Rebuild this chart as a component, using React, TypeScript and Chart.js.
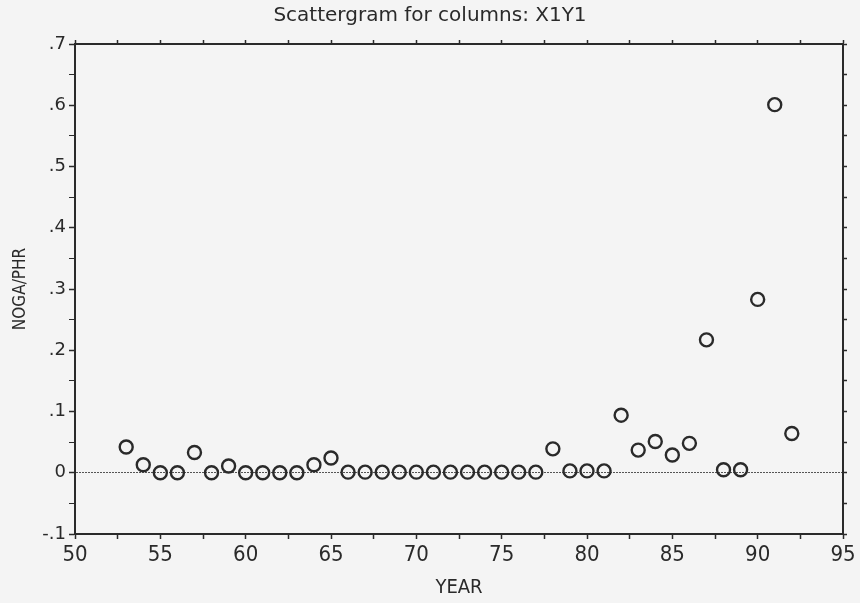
import React, { useEffect, useRef } from "react";
import { Chart, registerables } from "chart.js";

Chart.register(...registerables);

const years = [53, 54, 55, 56, 57, 58, 59, 60, 61, 62, 63, 64, 65, 66, 67, 68, 69, 70, 71, 72, 73, 74, 75, 76, 77, 78, 79, 80, 81, 82, 83, 84, 85, 86, 87, 88, 89, 90, 91, 92];
const nogaPhr = [0.042, 0.013, 0, 0, 0.033, 0, 0.011, 0, 0, 0, 0, 0.013, 0.024, 0.001, 0.001, 0.001, 0.001, 0.001, 0.001, 0.001, 0.001, 0.001, 0.001, 0.001, 0.001, 0.039, 0.003, 0.003, 0.003, 0.094, 0.037, 0.051, 0.029, 0.048, 0.217, 0.005, 0.005, 0.283, 0.601, 0.064];

const titleText = "Scattergram for columns: X1Y1";
const xTitle = "YEAR";
const yTitle = "NOGA/PHR";

const INK = "#2a2a2a";
const isMajor = (v: number, step: number) => Math.abs(v / step - Math.round(v / step)) < 1e-6;

export default function App() {
  const ref = useRef<HTMLCanvasElement | null>(null);
  useEffect(() => {
    if (!ref.current) return;
    const condensed = "'DejaVu Sans Condensed', 'Liberation Sans Narrow', 'DejaVu Sans', sans-serif";
    const chart = new Chart(ref.current, {
      type: "scatter",
      data: {
        datasets: [
          {
            data: years.map((y, i) => ({ x: y, y: nogaPhr[i] })),
            pointStyle: "circle",
            pointRadius: 6.5,
            pointBorderWidth: 2.4,
            borderColor: INK,
            backgroundColor: "rgba(0,0,0,0)",
            pointHoverRadius: 6.5,
          },
        ],
      },
      options: {
        animation: false,
        responsive: true,
        maintainAspectRatio: false,
        layout: { padding: 0 },
        plugins: {
          legend: { display: false },
          tooltip: { enabled: false },
          title: {
            display: true,
            text: titleText,
            color: INK,
            font: { family: "'DejaVu Sans', sans-serif", size: 20, weight: "normal" },
            padding: { top: 4, bottom: 0 },
          },
        },
        scales: {
          x: {
            type: "linear",
            position: "bottom",
            min: 50,
            max: 95,
            afterFit: (s: any) => { s.height = 69; },
            ticks: {
              stepSize: 2.5,
              autoSkip: false,
              maxRotation: 0,
              color: INK,
              font: { family: condensed, size: 22 },
              padding: 3,
              callback: (v: any) => (isMajor(Number(v), 5) ? String(v) : ""),
            },
            grid: { drawOnChartArea: false, tickLength: 5, tickColor: INK, tickWidth: 1.5 },
            border: { display: true, color: INK, width: 2 },
            title: { display: true, text: xTitle, color: INK, font: { family: condensed, size: 20 }, padding: { top: 0, bottom: 3 } },
          },
          x2: {
            type: "linear",
            position: "top",
            min: 50,
            max: 95,
            afterFit: (s: any) => { s.height = 16; },
            ticks: { stepSize: 2.5, autoSkip: false, display: false },
            grid: { drawOnChartArea: false, tickLength: 4, tickColor: INK, tickWidth: 1.5 },
            border: { display: true, color: INK, width: 2 },
          },
          y: {
            type: "linear",
            position: "left",
            min: -0.1,
            max: 0.7,
            afterFit: (s: any) => { s.width = 75; },
            ticks: {
              stepSize: 0.05,
              autoSkip: false,
              color: INK,
              font: { family: "'DejaVu Sans', sans-serif", size: 18 },
              padding: 3,
              callback: (v: any) => {
                const n = Number(v);
                if (!isMajor(n, 0.1)) return "";
                const r = Math.round(n * 10) / 10;
                if (r === 0) return "0";
                return r.toFixed(1).replace("0.", ".");
              },
            },
            grid: {
              drawOnChartArea: true,
              tickLength: 6,
              color: (c: any) => (c.tick && Math.abs(c.tick.value) < 1e-9 ? "#555" : "rgba(0,0,0,0)"),
              lineWidth: 1,
              tickColor: INK,
              tickWidth: (c: any) => (c.tick && isMajor(c.tick.value, 0.1) ? 1.5 : 1),
            },
            border: { display: true, color: INK, width: 2, dash: [2, 1] },
            title: { display: true, text: yTitle, color: INK, font: { family: condensed, size: 17 }, padding: { top: 10, bottom: 4 } },
          },
          y2: {
            type: "linear",
            position: "right",
            min: -0.1,
            max: 0.7,
            afterFit: (s: any) => { s.width = 17; },
            ticks: { stepSize: 0.05, autoSkip: false, display: false },
            grid: { drawOnChartArea: false, tickLength: 4, tickColor: INK, tickWidth: 1.5 },
            border: { display: true, color: INK, width: 2 },
          },
        },
      },
    } as any);
    return () => chart.destroy();
  }, []);
  return (
    <div style={{ position: "absolute", left: 0, top: 0, width: 860, height: 603, background: "#f4f4f4" }}>
      <canvas ref={ref} />
    </div>
  );
}
